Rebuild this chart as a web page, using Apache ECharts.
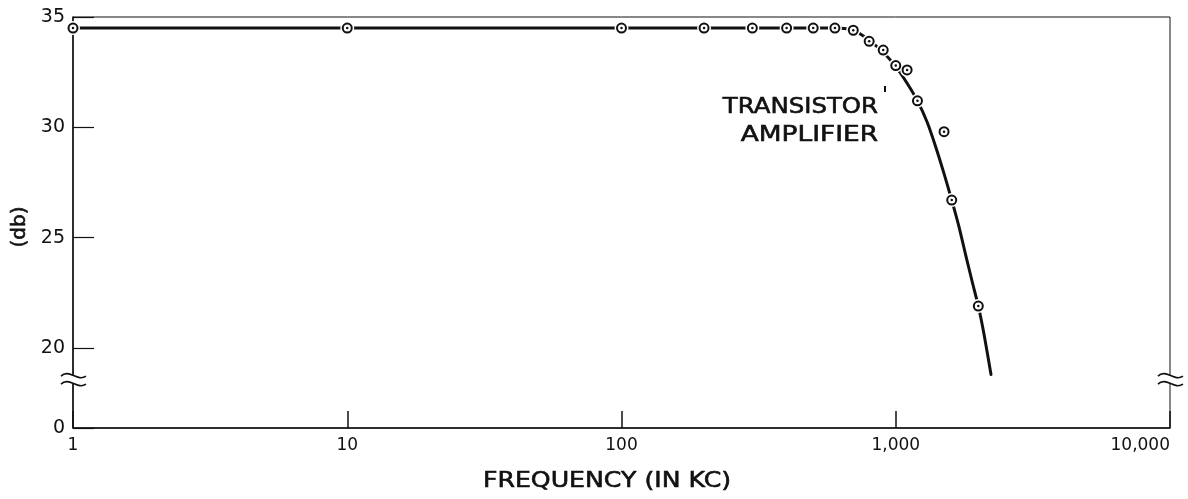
<!DOCTYPE html>
<html><head><meta charset="utf-8">
<script src="https://cdn.jsdelivr.net/npm/echarts@6/dist/echarts.min.js"></script>
<style>html,body{margin:0;padding:0;background:#fff}#c{width:1188px;height:499px}</style>
</head><body><div id="c"></div>
<script>
// Measured points (frequency in kc, gain in db)
const measuredFreq = [1, 10, 100, 200, 300, 400, 500, 600, 700, 800, 900, 1000, 1100, 1200, 1500, 1600, 2000];
const measuredDb   = [34.5, 34.5, 34.5, 34.5, 34.5, 34.5, 34.5, 34.5, 34.4, 33.9, 33.5, 32.8, 32.6, 31.2, 29.8, 26.7, 21.9];
// Hand-drawn fitted curve
const curveFreq = [1, 10, 100, 200, 300, 400, 500, 600, 650, 700, 750, 800, 900, 1000, 1100, 1200, 1300, 1400, 1500, 1600, 1700, 1800, 1900, 2000, 2100, 2225];
const curveDb   = [34.5, 34.5, 34.5, 34.5, 34.5, 34.5, 34.5, 34.5, 34.48, 34.4, 34.2, 33.95, 33.4, 32.75, 32.0, 31.2, 30.25, 29.1, 27.9, 26.7, 25.5, 24.2, 23.0, 21.9, 20.6, 18.8];
// Axes
const xTicks = [1, 10, 100, 1000, 10000];
const xTickLabels = ['1', '10', '100', '1,000', '10,000'];
const yTickValues = [0, 20, 25, 30, 35];
const yBreak = [2, 18.8];
const annotation = ['TRANSISTOR', 'AMPLIFIER'];
const xTitle = 'FREQUENCY (IN KC)';
const yTitle = '(db)';

const zip = (a, b) => a.map((v, i) => [v, b[i]]);
const chart = echarts.init(document.getElementById('c'), null, {renderer: 'canvas'});
const FONT = 'DejaVu Sans';
const INK = '#111';

chart.setOption({
  animation: false,
  grid: {left: 73, right: 18, top: 17, bottom: 71, show: true, borderColor: INK, borderWidth: 1, backgroundColor: 'transparent'},
  xAxis: {
    type: 'log', logBase: 10, min: 1, max: 10000,
    axisLine: {show: true, lineStyle: {color: INK, width: 1.5}},
    axisTick: {show: true, inside: true, length: 17, lineStyle: {color: INK, width: 1.5}},
    axisLabel: {
      color: INK, fontFamily: FONT, fontSize: 17, margin: 9, alignMaxLabel: 'right',
      formatter: v => { const i = xTicks.indexOf(Math.round(v)); return i >= 0 ? xTickLabels[i] : ''; }
    },
    splitLine: {show: false}, minorTick: {show: false}
  },
  yAxis: {
    type: 'value', min: 0, max: 35, interval: 5,
    breaks: [{start: yBreak[0], end: yBreak[1], gap: '2.3%'}],
    breakArea: {show: false},
    axisLine: {show: true, lineStyle: {color: INK, width: 1.5}},
    axisTick: {show: true, inside: true, length: 21, customValues: yTickValues, lineStyle: {color: INK, width: 1.2}},
    axisLabel: {color: INK, fontFamily: FONT, fontSize: 19, margin: 8, customValues: yTickValues,
      showMinLabel: true, showMaxLabel: true, hideOverlap: false, formatter: v => String(v)},
    splitLine: {show: false}
  },
  series: [
    {type: 'line', data: zip(curveFreq, curveDb), showSymbol: false, smooth: 0.2,
     lineStyle: {color: INK, width: 3, join: 'round', cap: 'round'}, z: 2, silent: true},
    {type: 'scatter', data: zip(measuredFreq, measuredDb), symbol: 'circle', symbolSize: 14,
     itemStyle: {color: '#fff', opacity: 1}, z: 3, silent: true},
    {type: 'scatter', data: zip(measuredFreq, measuredDb), symbol: 'circle', symbolSize: 9,
     itemStyle: {color: '#fff', borderColor: INK, borderWidth: 2, opacity: 1}, z: 4, silent: true},
    {type: 'scatter', data: zip(measuredFreq, measuredDb), symbol: 'circle', symbolSize: 2.5,
     itemStyle: {color: INK, opacity: 1}, z: 5, silent: true}
  ]
});

// decorations: break marks, titles, annotation
let yTop = chart.convertToPixel({yAxisIndex: 0}, yBreak[1]);
let yBot = chart.convertToPixel({yAxisIndex: 0}, yBreak[0]);
let yc = (isFinite(yTop) && isFinite(yBot)) ? (yTop + yBot) / 2 : 380;
const xL = chart.convertToPixel({xAxisIndex: 0}, xTicks[0]);
const xR = chart.convertToPixel({xAxisIndex: 0}, xTicks[xTicks.length - 1]);
function breakMark(x) {
  return [
    {type: 'rect', shape: {x: x - 3, y: yc - 4, width: 6, height: 8}, style: {fill: '#fff'}, z: 100},
    {type: 'bezierCurve', shape: {x1: x - 12, y1: yc - 3, cpx1: x - 4, cpy1: yc - 11, cpx2: x + 4, cpy2: yc + 3, x2: x + 13, y2: yc - 3},
     style: {stroke: INK, lineWidth: 1.6, fill: null}, z: 101},
    {type: 'bezierCurve', shape: {x1: x - 12, y1: yc + 5, cpx1: x - 4, cpy1: yc - 3, cpx2: x + 4, cpy2: yc + 11, x2: x + 13, y2: yc + 5},
     style: {stroke: INK, lineWidth: 1.6, fill: null}, z: 101}
  ];
}
const heavy = {stroke: INK, lineWidth: 0.6};
chart.setOption({
  graphic: [
    ...breakMark(xL), ...breakMark(xR),
    {type: 'text', x: 607, y: 482, scaleX: 1.2, style: Object.assign({text: xTitle, font: '21px "DejaVu Sans"', fill: INK, align: 'center', verticalAlign: 'middle'}, heavy)},
    {type: 'text', x: 20, y: 227, rotation: Math.PI / 2, style: Object.assign({text: yTitle, font: '20px "DejaVu Sans"', fill: INK, align: 'center', verticalAlign: 'middle'}, heavy)},
    {type: 'text', x: 878, y: 107, scaleX: 1.11, style: Object.assign({text: annotation[0], font: '22px "DejaVu Sans"', fill: INK, align: 'right', verticalAlign: 'middle'}, heavy)},
    {type: 'text', x: 878, y: 135, scaleX: 1.2, style: Object.assign({text: annotation[1], font: '22px "DejaVu Sans"', fill: INK, align: 'right', verticalAlign: 'middle'}, heavy)},
    {type: 'rect', shape: {x: 884, y: 86, width: 2, height: 6}, style: {fill: INK}}
  ]
});
</script></body></html>
